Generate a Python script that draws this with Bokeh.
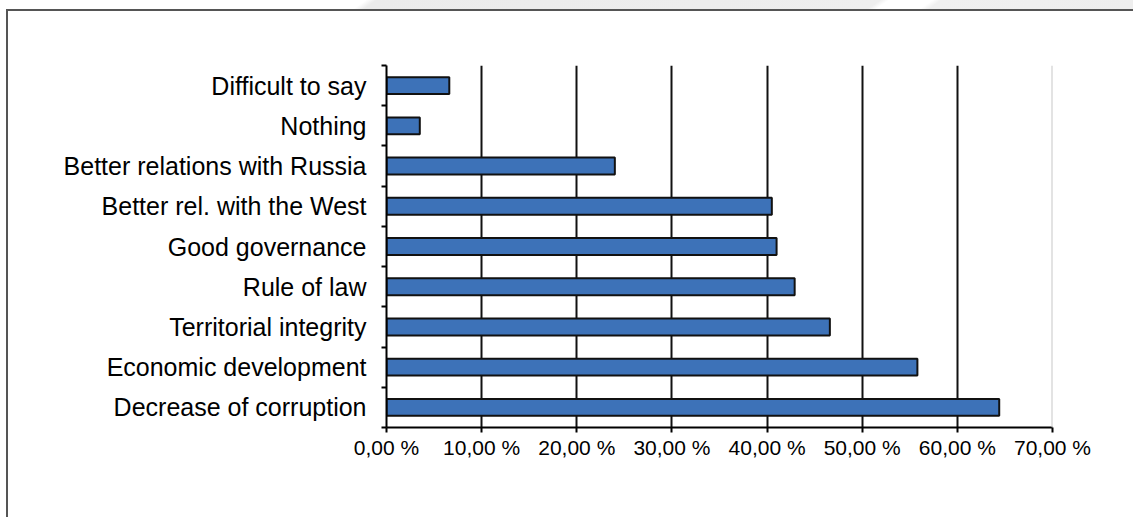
from bokeh.plotting import figure
from bokeh.layouts import column, row
from bokeh.models import Range1d, FixedTicker, Span, ColumnDataSource, Div, Spacer
from bokeh.embed import file_html
from bokeh.resources import INLINE

# Survey answers, listed from the bottom bar to the top bar
categories = [
    "Decrease of corruption",
    "Economic development",
    "Territorial integrity",
    "Rule of law",
    "Good governance",
    "Better rel. with the West",
    "Better relations with Russia",
    "Nothing",
    "Difficult to say",
]
shares = [64.4, 55.8, 46.6, 42.9, 41.0, 40.5, 24.0, 3.5, 6.6]

x_ticks = [0, 10, 20, 30, 40, 50, 60, 70]
x_tick_labels = ["0,00 %", "10,00 %", "20,00 %", "30,00 %",
                 "40,00 %", "50,00 %", "60,00 %", "70,00 %"]

FONT = "Liberation Sans"
FRAME = "#555555"

centers = [i + 0.5 for i in range(len(categories))]
bounds = list(range(len(categories) + 1))
source = ColumnDataSource(dict(pos=centers, share=shares, label=categories))

p = figure(
    width=1125, height=506,
    output_backend="svg", toolbar_location=None,
    x_range=Range1d(x_ticks[0], x_ticks[-1]),
    y_range=Range1d(bounds[0], bounds[-1]),
    min_border_left=378, min_border_right=81,
    min_border_top=54, min_border_bottom=90,
    margin=0,
)
p.outline_line_color = None
p.background_fill_color = "white"
p.border_fill_color = "white"

# vertical grid lines (black), last one is the light plot-area edge
p.ygrid.grid_line_color = None
p.xgrid.ticker = FixedTicker(ticks=x_ticks[1:-1])
p.xgrid.grid_line_color = "#111111"
p.xgrid.grid_line_width = 2
p.add_layout(Span(location=x_ticks[-1], dimension="height",
                  line_color="#c8c8c8", line_width=2))

p.hbar(y="pos", left=0, right="share", height=0.42, source=source,
       fill_color="#3d72b8", line_color="#111111", line_width=2)

# x axis
xa = p.xaxis[0]
xa.ticker = FixedTicker(ticks=x_ticks)
xa.major_label_overrides = dict(zip(x_ticks, x_tick_labels))
xa.axis_line_color = "black"
xa.axis_line_width = 2
xa.major_tick_line_color = "black"
xa.major_tick_line_width = 2
xa.major_tick_in = 0
xa.major_tick_out = 5
xa.minor_tick_line_color = None
xa.major_label_standoff = 3
xa.major_label_text_font = FONT
xa.major_label_text_font_size = "21px"
xa.major_label_text_color = "black"

# y axis: labels at bar centres, tick marks at category boundaries
ya = p.yaxis[0]
ya.ticker = FixedTicker(ticks=centers, minor_ticks=bounds)
ya.major_label_overrides = dict(zip(centers, categories))
ya.axis_line_color = "black"
ya.axis_line_width = 2
ya.major_tick_line_color = None
ya.major_tick_in = 0
ya.major_tick_out = 5
ya.minor_tick_line_color = "black"
ya.minor_tick_line_width = 2
ya.minor_tick_in = 0
ya.minor_tick_out = 5
ya.major_label_standoff = 15
ya.major_label_text_font = FONT
ya.major_label_text_font_size = "25px"
ya.major_label_text_color = "black"

# page decoration: grey strip along the top, and the outer frame lines
strip = Div(text="", width=1133, height=9, margin=0, styles={
    "background": "linear-gradient(145deg, #ffffff 0px, #ffffff 210px, "
                  "#ebebeb 216px, #eeeeee 505px, #ffffff 510px, #ffffff 535px, "
                  "#f0f0f0 540px, #eeeeee 652px)"})
left_edge = Div(text="", width=2, height=508, margin=0,
                styles={"background": FRAME})
top_edge = Div(text="", width=1125, height=2, margin=0,
               styles={"background": FRAME})

page = column(
    strip,
    row(Spacer(width=6, height=508, margin=0), left_edge,
        column(top_edge, p, spacing=0, margin=0),
        spacing=0, margin=0),
    spacing=0, margin=0,
)

open("out.html", "w").write(file_html(page, INLINE))
